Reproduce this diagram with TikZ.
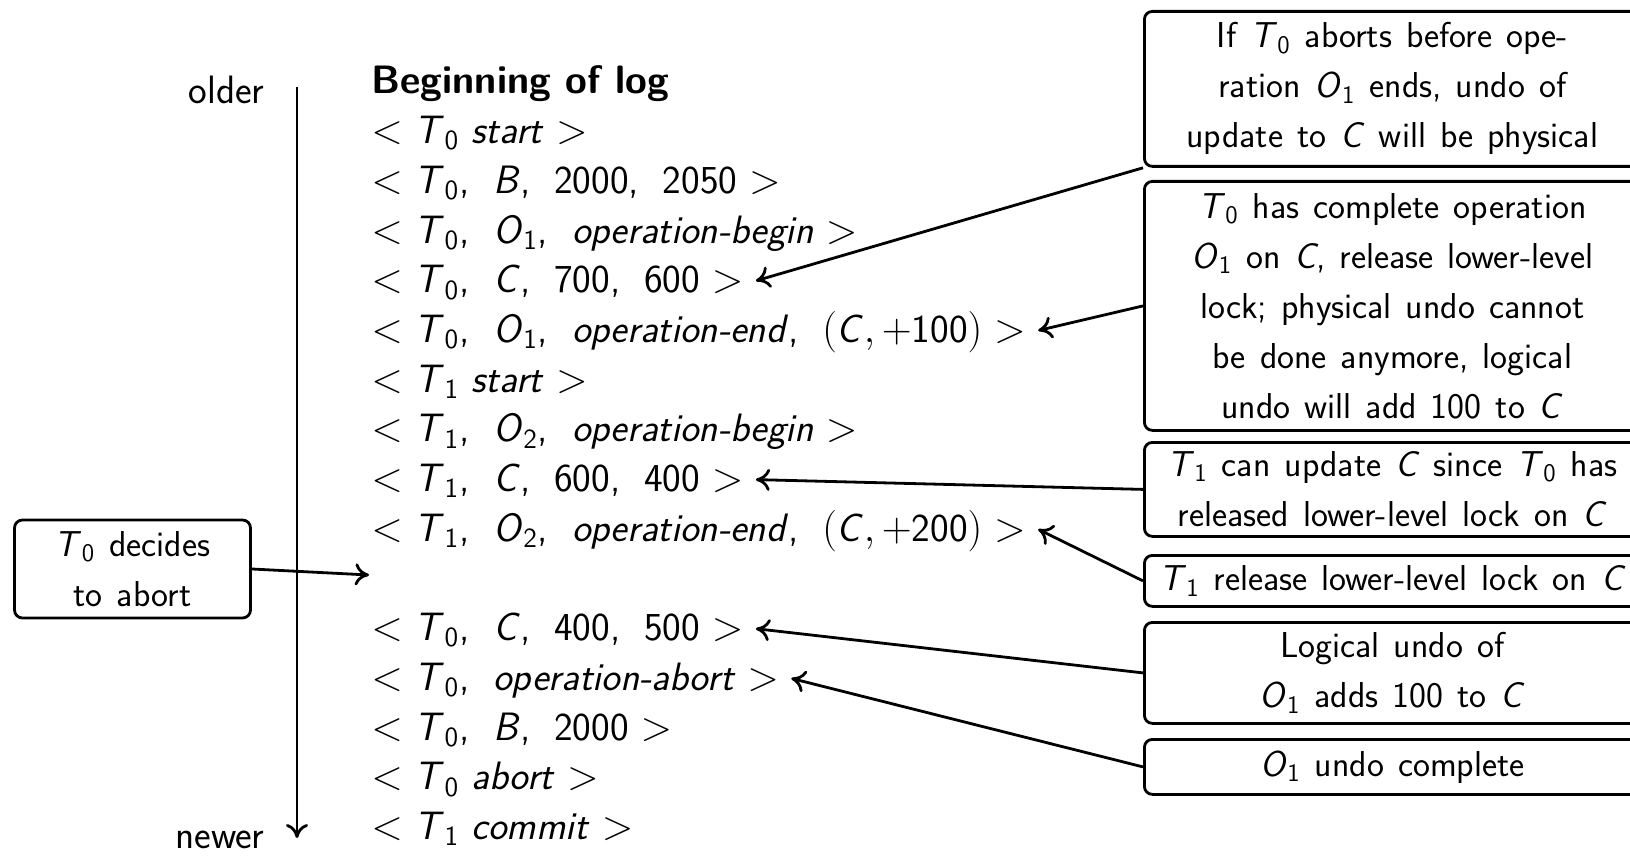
\documentclass[tikz,border=0pt]{standalone}
\usetikzlibrary{arrows.meta}
\newcommand\V[1]{\textsl{#1}}
\newcommand\s[1]{\textsubscript{#1}}
\newcommand\LT{$<$\hspace{0.3em}}
\newcommand\GT{\hspace{0.3em}$>$}
\newcommand\Cm{,\hspace{0.6em}}
\newcommand\PairC[1]{$($\V{C}$,{+}$#1$)$}
\newcommand\logfont{\fontsize{19.8pt}{24.85pt}\selectfont\sffamily}
\newcommand\notefont{\fontsize{18pt}{25pt}\selectfont\sffamily\spaceskip=0.39em plus 0.1em minus 0.05em\relax}
\tikzset{
  logline/.style={anchor=base west, inner xsep=6pt, inner ysep=0pt, text height=15pt, text depth=3pt, font=\logfont},
  boxstyle/.style={draw, rounded corners=4pt, line width=1.4pt, align=center, font=\notefont, inner sep=2pt},
  note/.style={boxstyle, anchor=north west, minimum width=248pt},
  conn/.style={-{To[length=7pt,width=11pt]}, line width=1.4pt},
  lbl/.style={anchor=east, font=\logfont, inner sep=0pt}
}
\begin{document}
\begin{tikzpicture}[x=0.5pt,y=-0.5pt]
\useasboundingbox (0,0) rectangle (1630,856);
% time axis
\node[lbl] (older) at (265,90) {older};
\node[lbl] (newer) at (265,840) {newer};
\coordinate (ttop) at (297,87);
\coordinate (tbot) at (297,838);
\draw[conn] (ttop) -- (tbot);
% log
\node[logline] (L0) at (359,94) {\bfseries Beginning of log};
\node[logline] (L1) at (359,143.7) {\LT\V{T}\s{0} \V{start}\GT};
\node[logline] (L2) at (359,193.4) {\LT\V{T}\s{0}\Cm\V{B}\Cm 2000\Cm 2050\GT};
\node[logline] (L3) at (359,243.1) {\LT\V{T}\s{0}\Cm\V{O}\s{1}\Cm\V{operation-begin}\GT};
\node[logline] (L4) at (359,292.8) {\LT\V{T}\s{0}\Cm\V{C}\Cm 700\Cm 600\GT};
\node[logline] (L5) at (359,342.5) {\LT\V{T}\s{0}\Cm\V{O}\s{1}\Cm\V{operation-end}\Cm\PairC{100}\GT};
\node[logline] (L6) at (359,392.2) {\LT\V{T}\s{1} \V{start}\GT};
\node[logline] (L7) at (359,441.9) {\LT\V{T}\s{1}\Cm\V{O}\s{2}\Cm\V{operation-begin}\GT};
\node[logline] (L8) at (359,491.6) {\LT\V{T}\s{1}\Cm\V{C}\Cm 600\Cm 400\GT};
\node[logline] (L9) at (359,541.3) {\LT\V{T}\s{1}\Cm\V{O}\s{2}\Cm\V{operation-end}\Cm\PairC{200}\GT};
\coordinate (L10) at (369,575);
\node[logline] (L11) at (359,640.7) {\LT\V{T}\s{0}\Cm\V{C}\Cm 400\Cm 500\GT};
\node[logline] (L12) at (359,690.4) {\LT\V{T}\s{0}\Cm\V{operation-abort}\GT};
\node[logline] (L13) at (359,740.1) {\LT\V{T}\s{0}\Cm\V{B}\Cm 2000\GT};
\node[logline] (L14) at (359,789.8) {\LT\V{T}\s{0} \V{abort}\GT};
\node[logline] (L15) at (359,839.5) {\LT\V{T}\s{1} \V{commit}\GT};
% left note
\node[boxstyle, minimum width=118pt, minimum height=49pt] (dec) at (132.5,569) {\V{T}\s{0} decides\\to abort};
% right notes
\node[note, minimum height=77.5pt] (B1) at (1143,10) {If \V{T}\s{0} aborts before ope-\\ration \V{O}\s{1} ends, undo of\\update to \V{C} will be physical};
\node[note, minimum height=124.5pt] (B2) at (1143,180) {\V{T}\s{0} has complete operation\\\V{O}\s{1} on \V{C}, release lower-level\\lock; physical undo cannot\\be done anymore, logical\\undo will add 100 to \V{C}};
\node[note, minimum height=47pt] (B3) at (1143,441) {\V{T}\s{1} can update \V{C} since \V{T}\s{0} has\\released lower-level lock on \V{C}};
\node[note, minimum height=25.5pt] (B4) at (1143,554) {\V{T}\s{1} release lower-level lock on \V{C}};
\node[note, minimum height=50.5pt] (B5) at (1143,621) {Logical undo of\\\V{O}\s{1} adds 100 to \V{C}};
\node[note, minimum height=27.5pt] (B6) at (1143,738) {\V{O}\s{1} undo complete};
% connectors
\draw[conn] (B1.south west) -- (L4.east);
\draw[conn] (B2.west) -- (L5.east);
\draw[conn] (B3.west) -- (L8.east);
\draw[conn] (B4.west) -- (L9.east);
\draw[conn] (B5.west) -- (L11.east);
\draw[conn] (B6.west) -- (L12.east);
\draw[conn] (dec.east) -- (L10);
\end{tikzpicture}
\end{document}
